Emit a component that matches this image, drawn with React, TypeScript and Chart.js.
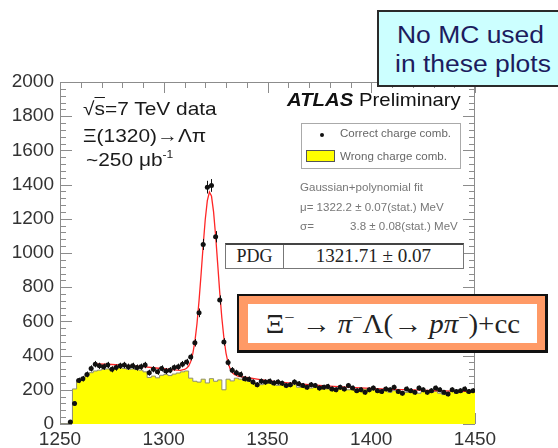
import React, { useEffect, useRef } from "react";
import { Chart, registerables } from "chart.js";

Chart.register(...registerables);

// Λπ invariant mass histogram, 2 MeV bins from 1250 to 1450 MeV
const MASS_MIN = 1250;
const MASS_MAX = 1450;
const BIN_WIDTH = 2;
const COUNT_MIN = 0;
const COUNT_MAX = 2000;
const MASS_MINOR_STEP = 10;
const MASS_MAJOR_STEP = 50;
const COUNT_MINOR_STEP = 40;
const COUNT_MAJOR_STEP = 200;

// Correct charge combinations, entries per bin (bin centres 1251 ... 1449)
const correctCharge = [
  0, 0, 12, 120, 255, 265, 290, 325, 350, 340,
  335, 345, 320, 330, 340, 345, 335, 340, 330, 335,
  345, 300, 320, 305, 325, 310, 315, 330, 335, 350,
  362, 392, 475, 650, 1050, 1385, 1395, 1095, 725, 480,
  360, 315, 300, 290, 265, 262, 245, 230, 250, 245,
  250, 240, 245, 238, 225, 230, 245, 235, 225, 215,
  230, 225, 210, 215, 220, 205, 200, 215, 205, 225,
  210, 195, 200, 185, 200, 210, 195, 190, 205, 200,
  215, 190, 180, 205, 195, 185, 210, 200, 185, 195,
  210, 200, 185, 175, 200, 190, 195, 205, 190, 195,
];

// Wrong charge combinations, entries per bin
const wrongCharge = [
  0, 0, 15, 205, 250, 268, 285, 300, 310, 315,
  320, 322, 325, 330, 328, 325, 320, 322, 318, 315,
  305, 272, 280, 270, 285, 290, 283, 292, 298, 305,
  310, 268, 250, 245, 262, 240, 265, 250, 258, 200,
  262, 252, 268, 262, 255, 250, 245, 238, 230, 236,
  240, 230, 226, 234, 220, 226, 230, 215, 220, 224,
  210, 215, 218, 210, 205, 210, 200, 205, 210, 200,
  205, 195, 200, 204, 195, 200, 190, 195, 200, 185,
  195, 200, 190, 185, 195, 190, 180, 190, 195, 185,
  190, 180, 172, 185, 190, 180, 186, 190, 185, 190,
];

// Gaussian + polynomial fit curve, sampled in MeV
const fitMass = [
  1268, 1275, 1280, 1285, 1290, 1295, 1300, 1305, 1308,
  1310, 1311, 1312, 1313, 1314, 1315, 1316, 1317, 1318, 1319,
  1320, 1321, 1322, 1323, 1324, 1325, 1326, 1327, 1328, 1329,
  1330, 1331, 1332, 1333, 1334, 1335, 1336,
  1340, 1345, 1350, 1355, 1360, 1370, 1380, 1390, 1400, 1410,
  1420, 1430, 1440, 1450,
];
const fitCounts = [
  352, 348, 344, 340, 335, 329, 323, 317, 314,
  319, 326, 339, 366, 411, 482, 585, 720, 877, 1044,
  1196, 1306, 1356, 1333, 1242, 1101, 935, 767, 620, 502,
  415, 358, 322, 301, 290, 284, 279,
  272, 262, 253, 246, 240, 230, 221, 214, 208, 203,
  199, 195, 192, 189,
];

const massTicks = [1250, 1300, 1350, 1400, 1450];
const countTicks = [0, 200, 400, 600, 800, 1000, 1200, 1400, 1600, 1800, 2000];

const TICK_FONT = "'Liberation Sans', Arial, sans-serif";

// ROOT-style frame: box with inward ticks on all four sides
const framePlugin = {
  id: "rootFrame",
  beforeDatasetsDraw(chart: any) {
    const { ctx, chartArea: a, scales } = chart;
    const x = scales.x;
    const y = scales.y;
    ctx.save();
    ctx.strokeStyle = "#8c8c8c";
    ctx.lineWidth = 1;
    ctx.beginPath();
    ctx.rect(a.left + 0.5, a.top + 0.5, a.right - a.left - 1, a.bottom - a.top - 1);
    for (let m = MASS_MIN; m <= MASS_MAX; m += MASS_MINOR_STEP) {
      const px = Math.round(x.getPixelForValue(m)) + 0.5;
      const len = (m - MASS_MIN) % MASS_MAJOR_STEP === 0 ? 11 : 6;
      ctx.moveTo(px, a.top);
      ctx.lineTo(px, a.top + len);
      ctx.moveTo(px, a.bottom);
      ctx.lineTo(px, a.bottom - len);
    }
    for (let v = COUNT_MIN; v <= COUNT_MAX; v += COUNT_MINOR_STEP) {
      const py = Math.round(y.getPixelForValue(v)) + 0.5;
      const len = v % COUNT_MAJOR_STEP === 0 ? 12 : 6;
      ctx.moveTo(a.left, py);
      ctx.lineTo(a.left + len, py);
      ctx.moveTo(a.right, py);
      ctx.lineTo(a.right - len, py);
    }
    ctx.stroke();
    ctx.restore();
  },
};

// Statistical error bars on the correct-charge points
const errorBarPlugin = {
  id: "errorBars",
  afterDatasetsDraw(chart: any) {
    const { ctx, scales } = chart;
    const x = scales.x;
    const y = scales.y;
    ctx.save();
    ctx.strokeStyle = "#111";
    ctx.lineWidth = 1;
    ctx.beginPath();
    correctCharge.forEach((n, i) => {
      if (n <= 0) return;
      const c = MASS_MIN + BIN_WIDTH * (i + 0.5);
      const err = Math.sqrt(n);
      const px = Math.round(x.getPixelForValue(c)) + 0.5;
      const py = Math.round(y.getPixelForValue(n)) + 0.5;
      ctx.moveTo(px, y.getPixelForValue(n + err));
      ctx.lineTo(px, y.getPixelForValue(n - err));
      ctx.moveTo(x.getPixelForValue(c - BIN_WIDTH / 2), py);
      ctx.lineTo(x.getPixelForValue(c + BIN_WIDTH / 2), py);
    });
    ctx.stroke();
    ctx.restore();
  },
};

const sans = "'Liberation Sans', Arial, Helvetica, sans-serif";
const serif = "'Liberation Serif', 'Times New Roman', serif";

function Text(props: {
  left: number;
  top: number;
  size: number;
  color?: string;
  stretch?: number;
  family?: string;
  children: React.ReactNode;
}) {
  const { left, top, size, color = "#1a1a1a", stretch = 1.1, family = sans, children } = props;
  return (
    <div
      style={{
        position: "absolute",
        left,
        top,
        fontSize: size,
        lineHeight: 1,
        fontFamily: family,
        color,
        whiteSpace: "nowrap",
        transform: `scaleX(${stretch})`,
        transformOrigin: "left center",
      }}
    >
      {children}
    </div>
  );
}

export default function App() {
  const canvasRef = useRef<HTMLCanvasElement>(null);

  useEffect(() => {
    const canvas = canvasRef.current;
    if (!canvas) return;

    const points = correctCharge
      .map((n, i) => ({ x: MASS_MIN + BIN_WIDTH * (i + 0.5), y: n }))
      .filter((p) => p.y > 0);
    const histogram = wrongCharge.map((n, i) => ({ x: MASS_MIN + BIN_WIDTH * i, y: n }));
    histogram.push({ x: MASS_MAX, y: wrongCharge[wrongCharge.length - 1] });
    const fitLine = fitMass.map((m, i) => ({ x: m, y: fitCounts[i] }));

    const chart = new Chart(canvas, {
      type: "line",
      data: {
        datasets: [
          {
            type: "scatter",
            label: "Correct charge comb.",
            data: points,
            showLine: false,
            pointRadius: 2.5,
            pointBackgroundColor: "#111",
            pointBorderWidth: 0,
            order: 0,
          } as any,
          {
            label: "Gaussian+polynomial fit",
            data: fitLine,
            borderColor: "#ff2626",
            borderWidth: 1.3,
            pointRadius: 0,
            fill: false,
            tension: 0,
            order: 1,
          },
          {
            label: "Wrong charge comb.",
            data: histogram,
            stepped: true,
            fill: "origin",
            backgroundColor: "#ffff00",
            borderColor: "#8e8e6e",
            borderWidth: 1,
            pointRadius: 0,
            order: 2,
          },
        ],
      },
      options: {
        animation: false,
        responsive: false,
        devicePixelRatio: 1,
        events: [],
        layout: {
          autoPadding: false,
          padding: { top: 82, right: 83, bottom: 0, left: 0 },
        },
        plugins: {
          legend: { display: false },
          tooltip: { enabled: false },
        },
        scales: {
          x: {
            type: "linear",
            min: MASS_MIN,
            max: MASS_MAX,
            afterBuildTicks: (s: any) => {
              s.ticks = massTicks.map((v) => ({ value: v }));
            },
            afterFit: (s: any) => {
              s.height = 24;
            },
            grid: { display: false, drawTicks: false },
            border: { display: false },
            ticks: {
              autoSkip: false,
              maxRotation: 0,
              padding: 4,
              color: "#333",
              font: { family: TICK_FONT, size: 19 },
              callback: (v: any) => String(v),
            },
          },
          y: {
            type: "linear",
            min: COUNT_MIN,
            max: COUNT_MAX,
            afterBuildTicks: (s: any) => {
              s.ticks = countTicks.map((v) => ({ value: v }));
            },
            afterFit: (s: any) => {
              s.width = 60;
            },
            grid: { display: false, drawTicks: false },
            border: { display: false },
            ticks: {
              padding: 6,
              color: "#333",
              font: { family: TICK_FONT, size: 19 },
              callback: (v: any) => String(v),
            },
          },
        },
      },
      plugins: [framePlugin, errorBarPlugin],
    });

    return () => chart.destroy();
  }, []);

  return (
    <div
      style={{
        position: "absolute",
        left: 0,
        top: 0,
        width: 558,
        height: 448,
        background: "#fff",
        overflow: "hidden",
        fontFamily: sans,
      }}
    >
      <canvas ref={canvasRef} width={558} height={448} style={{ display: "block", width: 558, height: 448 }} />

      {/* Run conditions */}
      <Text left={83} top={99} size={19}>
        √<span style={{ textDecoration: "overline" }}>s</span>=7 TeV data
      </Text>
      <Text left={83} top={126} size={19}>
        Ξ(1320)→Λπ
      </Text>
      <Text left={86} top={150} size={19}>
        ~250 μb
        <span style={{ fontSize: 11, position: "relative", top: -8 }}>-1</span>
      </Text>

      {/* ATLAS label */}
      <Text left={287} top={91} size={18.5} color="#111">
        <span style={{ fontWeight: "bold", fontStyle: "italic" }}>ATLAS</span> Preliminary
      </Text>

      {/* Legend */}
      <div
        style={{
          position: "absolute",
          left: 301,
          top: 123,
          width: 158,
          height: 44,
          border: "1px solid #aaa",
          background: "#fff",
        }}
      />
      <div
        style={{
          position: "absolute",
          left: 320,
          top: 133,
          width: 4,
          height: 4,
          borderRadius: 2,
          background: "#111",
        }}
      />
      <Text left={340} top={128} size={10.5} color="#666">
        Correct charge comb.
      </Text>
      <div
        style={{
          position: "absolute",
          left: 306,
          top: 150,
          width: 27,
          height: 10,
          border: "1px solid #555",
          background: "#ffff00",
        }}
      />
      <Text left={340} top={151} size={10.5} color="#666">
        Wrong charge comb.
      </Text>

      {/* Fit results */}
      <Text left={300} top={182} size={10.5} color="#777">
        Gaussian+polynomial fit
      </Text>
      <Text left={300} top={202} size={10.5} color="#777">
        μ= 1322.2 ± 0.07(stat.) MeV
      </Text>
      <Text left={300} top={221} size={10.5} color="#777">
        σ=
      </Text>
      <Text left={350} top={221} size={10.5} color="#777">
        3.8 ± 0.08(stat.) MeV
      </Text>

      {/* PDG reference value */}
      <div
        style={{
          position: "absolute",
          left: 225,
          top: 243,
          width: 239,
          height: 26,
          boxSizing: "border-box",
          borderTop: "2px solid #444",
          borderLeft: "1px solid #777",
          borderRight: "1px solid #777",
          borderBottom: "1px solid #777",
          background: "#fff",
          display: "flex",
          fontFamily: serif,
          fontSize: 18,
          color: "#222",
        }}
      >
        <div
          style={{
            width: 57,
            borderRight: "1px solid #777",
            display: "flex",
            alignItems: "center",
            justifyContent: "center",
          }}
        >
          PDG
        </div>
        <div style={{ flex: 1, display: "flex", alignItems: "center", justifyContent: "center" }}>
          <span style={{ display: "inline-block", transform: "scaleX(1.06)" }}>1321.71 ± 0.07</span>
        </div>
      </div>

      {/* Decay channel */}
      <div
        style={{
          position: "absolute",
          left: 237,
          top: 294,
          width: 311,
          height: 59,
          boxSizing: "border-box",
          border: "2px solid #111",
          borderRightWidth: 3,
          borderBottomWidth: 3,
          background: "#ff9a66",
          padding: "8px 8px 7px 9px",
        }}
      >
        <div
          style={{
            width: "100%",
            height: "100%",
            background: "#fff",
            display: "flex",
            alignItems: "center",
            justifyContent: "center",
            fontFamily: serif,
            fontSize: 27,
            color: "#222",
            whiteSpace: "nowrap",
          }}
        >
          <span style={{ display: "inline-block", transform: "scaleX(1.07)", lineHeight: 1 }}>
            Ξ<sup style={{ fontSize: 17 }}>−</sup> → <i>π</i>
            <sup style={{ fontSize: 17 }}>−</sup>Λ(→ <i>pπ</i>
            <sup style={{ fontSize: 17 }}>−</sup>)+cc
          </span>
        </div>
      </div>

      {/* Note box */}
      <div
        style={{
          position: "absolute",
          left: 377,
          top: 10,
          width: 200,
          height: 77,
          boxSizing: "border-box",
          border: "2px solid #2a2a2a",
          background: "#ccffff",
        }}
      />
      <Text left={397} top={23.5} size={23} color="#1c1c5e" stretch={1.15}>
        No MC used
      </Text>
      <Text left={395} top={52.5} size={23} color="#1c1c5e" stretch={1.15}>
        in these plots
      </Text>
    </div>
  );
}
